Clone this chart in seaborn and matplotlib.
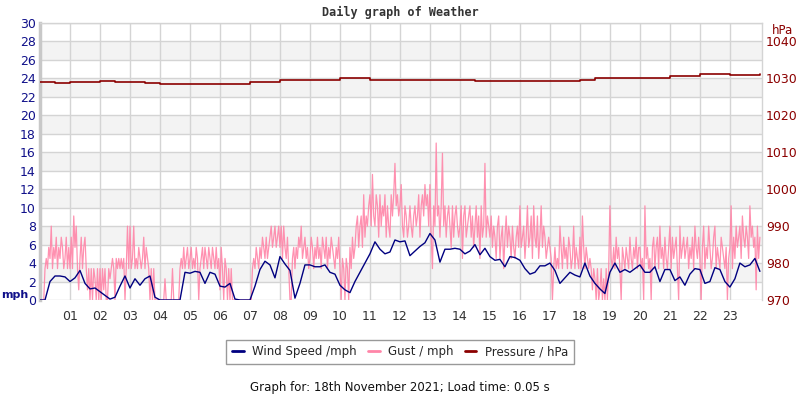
import numpy as np
import pandas as pd
import matplotlib
matplotlib.use("Agg")
import matplotlib.pyplot as plt
import seaborn as sns
from matplotlib.lines import Line2D

# ---------------- data ----------------
hour_labels = ["%02d" % h for h in range(1, 24)]

# wind speed (mph), every 10 minutes from 00:00 to 24:00
wind_speed = [
    0, 0, 2.0, 2.6, 2.6, 2.5,
    2.0, 2.4, 3.2, 1.8, 1.2, 1.3,
    0.9, 0.5, 0.1, 0.3, 1.5, 2.6,
    1.3, 2.3, 1.6, 2.3, 2.6, 0.3,
    0, 0, 0, 0, 0, 3.0,
    2.9, 3.1, 3.0, 1.8, 3.0, 2.8,
    1.5, 1.4, 1.8, 0.1, 0, 0,
    0, 1.5, 3.3, 4.2, 3.8, 2.4,
    4.7, 3.9, 3.2, 0.2, 1.8, 3.8,
    3.8, 3.6, 3.6, 3.8, 3.0, 2.8,
    1.6, 1.1, 0.8, 2.0, 3.0, 4.0,
    5.0, 6.3, 5.5, 5.0, 5.2, 6.5,
    6.3, 6.4, 4.8, 5.3, 5.8, 6.2,
    7.2, 6.5, 4.1, 5.5, 5.5, 5.6,
    5.5, 5.0, 5.3, 6.0, 4.9, 5.6,
    4.7, 4.3, 4.4, 3.6, 4.7, 4.6,
    4.3, 3.4, 2.8, 3.0, 3.7, 3.7,
    4.0, 3.2, 1.8, 2.4, 3.0, 2.7,
    2.5, 4.0, 2.6, 1.8, 1.2, 0.7,
    3.0, 4.0, 3.0, 3.3, 3.0, 3.4,
    3.8, 3.0, 3.0, 3.6, 2.0, 3.3,
    3.3, 2.1, 2.5, 1.6, 2.8, 3.4,
    3.3, 1.8, 2.0, 3.5, 3.3, 2.0,
    1.4, 2.3, 4.0, 3.6, 3.8, 4.5,
    3.1,
]

# gust (mph), every 2.5 minutes from 00:00 to 24:00 (one row per hour)
gust = [
    0, 0, 0, 0, 3.4, 4.5, 3.4, 5.7, 4.5, 8.0, 3.4, 5.7, 4.5, 6.8, 3.4, 5.7, 4.5, 6.8, 5.7, 3.4, 4.5, 6.8, 3.4, 5.7,
    3.4, 6.8, 3.4, 9.1, 5.7, 8.0, 3.4, 1.1, 4.5, 6.8, 3.4, 5.7, 6.8, 3.4, 1.1, 3.4, 0, 3.4, 0, 3.4, 2.3, 0, 3.4, 0,
    3.4, 0, 3.4, 1.1, 3.4, 0, 0, 3.4, 2.3, 3.4, 4.5, 3.4, 0, 4.5, 3.4, 4.5, 3.4, 4.5, 3.4, 4.5, 0, 3.4, 8.0, 3.4,
    8.0, 3.4, 4.5, 8.0, 3.4, 4.5, 3.4, 5.7, 4.5, 3.4, 4.5, 6.8, 3.4, 5.7, 4.5, 3.4, 0, 3.4, 0, 3.4, 0, 0, 0, 0,
    0, 0, 0, 0, 2.3, 0, 0, 0, 0, 0, 3.4, 0, 0, 0, 0, 0, 3.4, 4.5, 3.4, 5.7, 3.4, 4.5, 5.7, 3.4,
    4.5, 5.7, 3.4, 4.5, 3.4, 5.7, 4.5, 0, 3.4, 4.5, 5.7, 3.4, 5.7, 4.5, 3.4, 5.7, 4.5, 3.4, 5.7, 4.5, 3.4, 5.7, 3.4, 4.5,
    1.1, 5.7, 3.4, 0, 4.5, 3.4, 0, 3.4, 0, 3.4, 0, 0, 0, 0, 0, 0, 0, 0, 0, 0, 0, 0, 0, 0,
    0, 0, 3.4, 4.5, 3.4, 5.7, 4.5, 3.4, 5.7, 4.5, 6.8, 5.7, 4.5, 6.8, 4.5, 5.7, 6.8, 8.0, 5.7, 6.8, 8.0, 5.7, 6.8, 8.0,
    5.7, 8.0, 4.5, 8.0, 5.7, 4.5, 6.8, 3.4, 0, 0, 4.5, 5.7, 3.4, 5.7, 4.5, 6.8, 5.7, 8.0, 4.5, 5.7, 6.8, 4.5, 5.7, 3.4,
    4.5, 6.8, 5.7, 3.4, 5.7, 4.5, 6.8, 4.5, 5.7, 3.4, 6.8, 5.7, 4.5, 6.8, 3.4, 5.7, 4.5, 6.8, 5.7, 4.5, 3.4, 5.7, 4.5, 6.8,
    3.4, 0, 4.5, 3.4, 0, 4.5, 3.4, 0, 5.7, 3.4, 6.8, 4.5, 5.7, 8.0, 9.1, 5.7, 8.0, 9.1, 5.7, 11.4, 6.8, 9.1, 8.0, 10.2,
    11.4, 8.0, 13.6, 9.1, 8.0, 11.4, 10.2, 6.8, 11.4, 8.0, 10.2, 9.1, 11.4, 6.8, 10.2, 8.0, 6.8, 11.4, 9.1, 11.4, 14.8, 10.2, 11.4, 9.1,
    10.2, 12.5, 8.0, 6.8, 10.2, 9.1, 6.8, 8.0, 10.2, 8.0, 6.8, 9.1, 10.2, 8.0, 9.1, 11.4, 6.8, 10.2, 11.4, 9.1, 12.5, 10.2, 11.4, 8.0,
    12.5, 6.8, 3.4, 10.2, 8.0, 17.0, 9.1, 10.2, 6.8, 10.2, 15.9, 8.0, 10.2, 6.8, 9.1, 10.2, 8.0, 5.7, 10.2, 6.8, 9.1, 10.2, 8.0, 6.8,
    8.0, 10.2, 4.5, 9.1, 10.2, 6.8, 8.0, 9.1, 10.2, 6.8, 9.1, 5.7, 8.0, 10.2, 6.8, 9.1, 4.5, 10.2, 6.8, 8.0, 14.8, 6.8, 9.1, 8.0,
    6.8, 9.1, 5.7, 8.0, 6.8, 4.5, 8.0, 9.1, 4.5, 6.8, 8.0, 3.4, 6.8, 9.1, 5.7, 8.0, 6.8, 4.5, 8.0, 5.7, 4.5, 6.8, 8.0, 5.7,
    10.2, 5.7, 6.8, 8.0, 4.5, 6.8, 10.2, 5.7, 6.8, 9.1, 4.5, 10.2, 6.8, 5.7, 9.1, 4.5, 6.8, 10.2, 5.7, 8.0, 6.8, 4.5, 5.7, 6.8,
    5.7, 4.5, 0, 3.4, 5.7, 3.4, 4.5, 3.4, 8.0, 5.7, 3.4, 6.8, 4.5, 5.7, 3.4, 6.8, 5.7, 3.4, 4.5, 8.0, 3.4, 5.7, 4.5, 3.4,
    6.8, 3.4, 9.1, 5.7, 3.4, 5.7, 4.5, 3.4, 4.5, 3.4, 1.1, 3.4, 2.3, 0, 3.4, 0, 1.1, 3.4, 0, 2.3, 0, 3.4, 0, 3.4,
    10.2, 4.5, 3.4, 5.7, 3.4, 6.8, 4.5, 5.7, 3.4, 0, 5.7, 4.5, 3.4, 5.7, 4.5, 3.4, 6.8, 4.5, 3.4, 5.7, 4.5, 6.8, 3.4, 5.7,
    5.7, 3.4, 4.5, 0, 10.2, 4.5, 5.7, 3.4, 4.5, 0, 5.7, 6.8, 3.4, 5.7, 6.8, 3.4, 8.0, 4.5, 5.7, 3.4, 6.8, 4.5, 3.4, 5.7,
    8.0, 3.4, 6.8, 4.5, 5.7, 6.8, 3.4, 0, 8.0, 4.5, 5.7, 6.8, 4.5, 5.7, 6.8, 3.4, 5.7, 4.5, 6.8, 3.4, 8.0, 5.7, 4.5, 6.8,
    4.5, 0, 5.7, 8.0, 3.4, 5.7, 4.5, 8.0, 5.7, 3.4, 4.5, 6.8, 8.0, 3.4, 5.7, 4.5, 3.4, 6.8, 5.7, 4.5, 3.4, 5.7, 0, 4.5,
    5.7, 10.2, 3.4, 6.8, 4.5, 8.0, 5.7, 6.8, 8.0, 4.5, 9.1, 6.8, 5.7, 8.0, 6.8, 4.5, 10.2, 6.8, 8.0, 5.7, 6.8, 1.1, 8.0, 4.5,
    6.8,
]

# pressure (hPa), every 30 minutes from 00:00 to 24:00
pressure = [
    1028.9, 1028.8, 1029.0, 1029.0, 1029.3, 1029.0, 1029.0, 1028.8,
    1028.6, 1028.6, 1028.5, 1028.5, 1028.4, 1028.4, 1029.0, 1029.1,
    1029.5, 1029.5, 1029.5, 1029.5, 1030.0, 1030.0, 1029.6, 1029.5,
    1029.5, 1029.5, 1029.5, 1029.5, 1029.5, 1029.2, 1029.2, 1029.4,
    1029.4, 1029.4, 1029.4, 1029.4, 1029.5, 1030.0, 1030.0, 1030.1,
    1030.1, 1030.2, 1030.6, 1030.7, 1031.1, 1031.1, 1031.0, 1031.0,
    1031.1,
]

wind_t = np.arange(len(wind_speed)) / 6.0
gust_t = np.arange(len(gust)) / 24.0
pres_t = np.arange(len(pressure)) / 2.0

df_wind = pd.DataFrame({"hour": wind_t, "mph": wind_speed})
df_gust = pd.DataFrame({"hour": gust_t, "mph": gust})
df_pres = pd.DataFrame({"hour": pres_t, "hPa": pressure})

# ---------------- styling ----------------
sns.set_style("white")
plt.rcParams["font.family"] = ["DejaVu Sans"]

NAVY = "#10108a"
WIND = "#000080"
GUST = "#ff85a8"
PRES = "#8b0000"
GRID = "#d4d4d4"

fig = plt.figure(figsize=(8, 4), dpi=100)
ax = fig.add_axes([0.05, 0.25, 0.9025, 0.6925])

# alternating bands
for lo in range(2, 30, 4):
    ax.axhspan(lo, lo + 2, color="#f3f3f3", zorder=0, lw=0)

sns.lineplot(data=df_gust, x="hour", y="mph", ax=ax, color=GUST,
             linewidth=0.9, alpha=0.9, zorder=3, errorbar=None,
             estimator=None)
sns.lineplot(data=df_wind, x="hour", y="mph", ax=ax, color=WIND,
             linewidth=1.0, zorder=4, errorbar=None, estimator=None)

ax.set_xlim(0, 24.07)
ax.set_ylim(0, 30)
ax.set_yticks(range(0, 31, 2))
ax.set_xticks(range(1, 24))
ax.set_xticklabels(hour_labels)
ax.grid(True, color=GRID, linewidth=1.0, zorder=1)
ax.set_axisbelow(True)
ax.tick_params(axis="y", colors=NAVY, labelsize=9, length=0, pad=3)
ax.tick_params(axis="x", colors="#333333", labelsize=9, length=0, pad=7)
ax.set_xlabel("")
ax.set_ylabel("")
for s in ["top", "right", "bottom"]:
    ax.spines[s].set_color(GRID)
    ax.spines[s].set_linewidth(1.0)
ax.spines["bottom"].set_visible(False)
ax.spines["left"].set_color("#c8c8c8")
ax.spines["left"].set_linewidth(2.5)

ax2 = ax.twinx()
sns.lineplot(data=df_pres, x="hour", y="hPa", ax=ax2, color=PRES,
             linewidth=1.2, drawstyle="steps-post", errorbar=None,
             estimator=None)
ax2.set_ylim(970, 1045)
ax2.set_yticks(range(970, 1041, 10))
ax2.tick_params(axis="y", colors=PRES, labelsize=9, length=0, pad=3)
ax2.set_ylabel("")
ax2.set_xlabel("")
for s in ax2.spines.values():
    s.set_visible(False)
ax2.grid(False)

# axis unit labels
fig.text(0.002, 0.262, "mph", color=NAVY, fontsize=8, fontweight="bold",
         ha="left", va="center")
fig.text(0.978, 0.925, "hPa", color=PRES, fontsize=8.5, ha="center",
         va="center")

# title
fig.text(0.5, 0.97, "Daily graph of Weather", fontsize=8.5,
         fontweight="bold", family="DejaVu Sans Mono", color="#333333",
         ha="center", va="center")

# legend
handles = [
    Line2D([], [], color=WIND, lw=2),
    Line2D([], [], color=GUST, lw=2),
    Line2D([], [], color=PRES, lw=2),
]
labels = ["Wind Speed /mph", "Gust / mph", "Pressure / hPa"]
leg = fig.legend(handles, labels, loc="center", bbox_to_anchor=(0.5, 0.12),
                 ncol=3, fontsize=8.5, frameon=True, fancybox=False,
                 handlelength=1.0, handletextpad=0.7, columnspacing=0.95,
                 borderpad=0.5)
leg.get_frame().set_edgecolor("#808080")
leg.get_frame().set_linewidth(1.0)

fig.text(0.5, 0.03, "Graph for: 18th November 2021; Load time: 0.05 s",
         fontsize=8.5, color="#111111", ha="center", va="center")

fig.savefig("out.png", dpi=100)
